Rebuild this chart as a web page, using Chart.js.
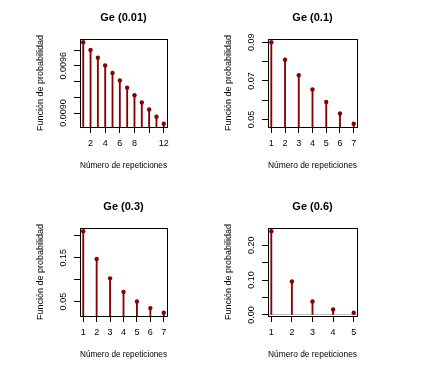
<!DOCTYPE html>
<html>
<head>
<meta charset="utf-8">
<script src="https://cdn.jsdelivr.net/npm/chart.js@4"></script>
<style>
  body { margin: 0; width: 422px; height: 378px; overflow: hidden; background: #fff; position: relative; }
  canvas { position: absolute; }
</style>
</head>
<body>
<canvas id="c1" width="247" height="189" style="left:0;top:0"></canvas>
<canvas id="c2" width="249" height="189" style="left:188px;top:0"></canvas>
<canvas id="c3" width="247" height="189" style="left:0;top:189px"></canvas>
<canvas id="c4" width="249" height="189" style="left:188px;top:189px"></canvas>
<script>
// titulos de cada panel
const titulos = ["Ge (0.01)", "Ge (0.1)", "Ge (0.3)", "Ge (0.6)"];

// Ge (0.01)
const rep1 = [1, 2, 3, 4, 5, 6, 7, 8, 9, 10, 11, 12];
const prob1 = [0.0099, 0.009801, 0.009703, 0.009606, 0.00951, 0.009415, 0.009321, 0.009227, 0.009135, 0.009044, 0.008953, 0.008864];
const xTicks1 = [2, 4, 6, 8, 10, 12];
const xLabels1 = ["2", "4", "6", "8", "", "12"];
const yTicks1 = [0.0090, 0.0092, 0.0094, 0.0096, 0.0098];
const yLabels1 = ["0.0090", "", "", "0.0096", ""];

// Ge (0.1)
const rep2 = [1, 2, 3, 4, 5, 6, 7];
const prob2 = [0.09, 0.081, 0.0729, 0.06561, 0.05905, 0.05314, 0.04783];
const xTicks2 = [1, 2, 3, 4, 5, 6, 7];
const xLabels2 = ["1", "2", "3", "4", "5", "6", "7"];
const yTicks2 = [0.05, 0.06, 0.07, 0.08, 0.09];
const yLabels2 = ["0.05", "", "0.07", "", "0.09"];

// Ge (0.3)
const rep3 = [1, 2, 3, 4, 5, 6, 7];
const prob3 = [0.21, 0.147, 0.1029, 0.07203, 0.05042, 0.03529, 0.02471];
const xTicks3 = [1, 2, 3, 4, 5, 6, 7];
const xLabels3 = ["1", "2", "3", "4", "5", "6", "7"];
const yTicks3 = [0.05, 0.10, 0.15, 0.20];
const yLabels3 = ["0.05", "", "0.15", ""];

// Ge (0.6)
const rep4 = [1, 2, 3, 4, 5];
const prob4 = [0.24, 0.096, 0.0384, 0.01536, 0.006144];
const xTicks4 = [1, 2, 3, 4, 5];
const xLabels4 = ["1", "2", "3", "4", "5"];
const yTicks4 = [0, 0.05, 0.10, 0.15, 0.20];
const yLabels4 = ["0.00", "", "0.10", "", "0.20"];

const rojo = "#8b0000";
const fuente = "'Liberation Sans', Arial, sans-serif";

// caja alrededor del area del grafico
const marco = {
  id: "marco",
  afterDraw(chart) {
    const a = chart.chartArea;
    const ctx = chart.ctx;
    ctx.save();
    ctx.strokeStyle = "#000";
    ctx.lineWidth = 1;
    ctx.strokeRect(Math.round(a.left) + 0.5, Math.round(a.top) + 0.5,
      Math.round(a.right - a.left), Math.round(a.bottom - a.top));
    ctx.restore();
  }
};

function dibujar(id, titulo, rep, prob, xlim, ylim, xTicks, xLabels, yTicks, yLabels, yPad) {
  const puntos = rep.map((r, i) => ({ x: r, y: prob[i] }));

  new Chart(document.getElementById(id), {
    type: "bar",
    data: {
      datasets: [
        { type: "scatter", xAxisID: "x", yAxisID: "y", data: puntos, backgroundColor: rojo, borderWidth: 0, pointRadius: 2.2 },
        { type: "bar", xAxisID: "x", yAxisID: "y", data: puntos, backgroundColor: rojo, borderWidth: 0, barThickness: 1.2 }
      ]
    },
    options: {
      responsive: false,
      animation: false,
      devicePixelRatio: 1,
      layout: { padding: { left: 0, right: 80, top: 0, bottom: 0 } },
      plugins: {
        legend: { display: false },
        tooltip: { enabled: false }
      },
      scales: {
        // eje de arriba solo para el titulo, asi queda centrado sobre la caja
        top: {
          type: "linear",
          position: "top",
          min: xlim[0],
          max: xlim[1],
          afterFit: s => { s.height = 39; },
          border: { display: false },
          grid: { display: false },
          ticks: { display: false },
          title: {
            display: true,
            text: titulo,
            color: "#000",
            font: { family: fuente, size: 11, weight: "bold" },
            padding: { top: 11, bottom: 0 }
          }
        },
        x: {
          type: "linear",
          min: xlim[0],
          max: xlim[1],
          bounds: "data",
          offset: false,
          afterBuildTicks: s => { s.ticks = xTicks.map(v => ({ value: v })); },
          afterFit: s => { s.height = 62; },
          border: { display: false },
          grid: { offset: false, drawOnChartArea: false, tickLength: 6, tickColor: "#000", tickWidth: 1 },
          ticks: {
            color: "#000",
            font: { family: fuente, size: 9 },
            padding: 5.6,
            maxRotation: 0,
            autoSkip: false,
            callback: (v, i) => xLabels[i]
          },
          title: {
            display: true,
            text: "Número de repeticiones",
            color: "#000",
            font: { family: fuente, size: 9 },
            padding: { top: 0, bottom: 17.6 }
          }
        },
        y: {
          type: "linear",
          min: ylim[0],
          max: ylim[1],
          bounds: "data",
          afterBuildTicks: s => { s.ticks = yTicks.map(v => ({ value: v })); },
          afterFit: s => { s.width = 80; },
          border: { display: false },
          grid: {
            color: c => (c.tick && c.tick.value === 0) ? "#bebebe" : "rgba(0,0,0,0)",
            tickLength: 6,
            tickColor: "#000",
            tickWidth: 1
          },
          ticks: {
            color: "#000",
            font: { family: fuente, size: 9 },
            padding: yPad,
            minRotation: 90,
            maxRotation: 90,
            crossAlign: "center",
            autoSkip: false,
            callback: (v, i) => yLabels[i]
          },
          title: {
            display: true,
            text: "Función de probabilidad",
            color: "#000",
            font: { family: fuente, size: 9 },
            padding: { top: 35.6, bottom: 0 }
          }
        }
      }
    },
    plugins: [marco]
  });
}

dibujar("c1", titulos[0], rep1, prob1, [0.56, 12.44], [0.0088224, 0.0099414], xTicks1, xLabels1, yTicks1, yLabels1, -3.45);
dibujar("c2", titulos[1], rep2, prob2, [0.76, 7.24], [0.0461429, 0.0916868], xTicks2, xLabels2, yTicks2, yLabels2, 1.55);
dibujar("c3", titulos[2], rep3, prob3, [0.76, 7.24], [0.0172946, 0.2174117], xTicks3, xLabels3, yTicks3, yLabels3, 1.55);
dibujar("c4", titulos[3], rep4, prob4, [0.84, 5.16], [-0.0032102, 0.2493542], xTicks4, xLabels4, yTicks4, yLabels4, 1.55);
</script>
</body>
</html>
